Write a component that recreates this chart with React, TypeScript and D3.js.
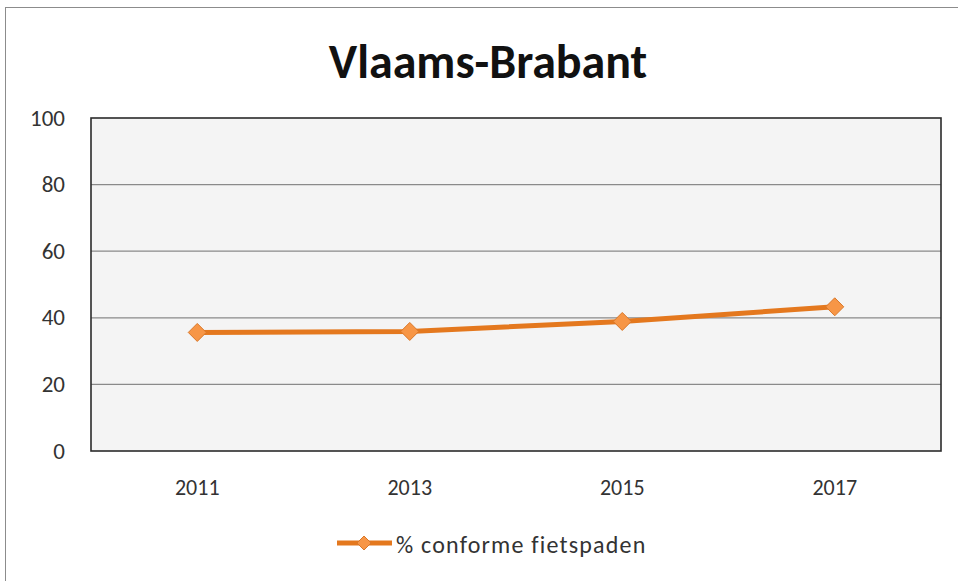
import * as d3 from 'd3'

const years = ['2011', '2013', '2015', '2017']
const conforme = [35.6, 35.9, 38.9, 43.3]
const yTicks = [0, 20, 40, 60, 80, 100]
const seriesName = '% conforme fietspaden'
const title = 'Vlaams-Brabant'

const W = 958, H = 581
const plot = { left: 91, right: 941, top: 118, bottom: 451 }
const lineColor = '#E4781E'
const markerFill = '#F79646'
const font = 'Carlito, "Open Sans", "Liberation Sans", sans-serif'

function Diamond({ x, y, r }: { x: number; y: number; r: number }) {
  return (
    <path
      d={`M${x},${y - r}L${x + r},${y}L${x},${y + r}L${x - r},${y}Z`}
      fill={markerFill}
      stroke="#D9782A"
      strokeWidth={1}
    />
  )
}

export default function App() {
  const x = d3.scaleBand().domain(years).range([plot.left, plot.right])
  const y = d3.scaleLinear().domain([0, 100]).range([plot.bottom, plot.top])
  const cx = (yr: string) => (x(yr) ?? 0) + x.bandwidth() / 2

  const line = d3.line<number>()
    .x((_, i) => cx(years[i]))
    .y(d => y(d))

  return (
    <svg width={W} height={H} style={{ position: 'absolute', left: 0, top: 0 }} fontFamily={font}>
      <rect x={0} y={0} width={W} height={H} fill="#fff" />
      {/* chart frame, runs off the right and bottom */}
      <rect x={5.5} y={7.5} width={W + 10} height={H + 10} fill="none" stroke="#8c8c8c" strokeWidth={1} />

      <text x={488} y={78} textAnchor="middle" fontSize={48} fontWeight="bold" fill="#111">{title}</text>

      <rect x={plot.left} y={plot.top} width={plot.right - plot.left} height={plot.bottom - plot.top} fill="#f4f4f4" />

      {yTicks.filter(t => t > 0 && t < 100).map(t => (
        <line key={t} x1={plot.left} x2={plot.right} y1={y(t)} y2={y(t)} stroke="#8a8a8a" strokeWidth={1.2} />
      ))}

      <rect x={plot.left} y={plot.top} width={plot.right - plot.left} height={plot.bottom - plot.top}
        fill="none" stroke="#2b2b2b" strokeWidth={1.6} />

      {yTicks.map(t => (
        <text key={t} x={65} y={y(t) + 7.5} textAnchor="end" fontSize={23} fill="#333">{t}</text>
      ))}

      {years.map(yr => (
        <text key={yr} x={cx(yr)} y={495} textAnchor="middle" fontSize={22} fill="#333">{yr}</text>
      ))}

      <path d={line(conforme) ?? ''} fill="none" stroke={lineColor} strokeWidth={5} strokeLinejoin="round" />
      {conforme.map((v, i) => (
        <Diamond key={i} x={cx(years[i])} y={y(v)} r={9} />
      ))}

      {/* legend */}
      <line x1={337} x2={392} y1={543} y2={543} stroke={lineColor} strokeWidth={5} />
      <Diamond x={364} y={543} r={7} />
      <text x={396} y={553} fontSize={24} letterSpacing={1.2} fill="#333">{seriesName}</text>
    </svg>
  )
}
